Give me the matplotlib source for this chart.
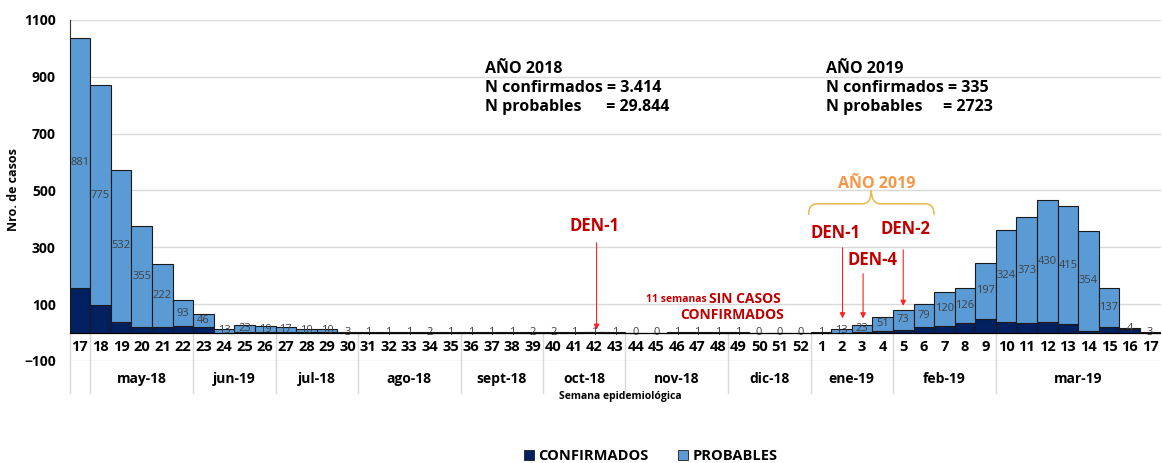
import matplotlib
matplotlib.use("Agg")
import matplotlib.pyplot as plt
import matplotlib.transforms as mtransforms
from matplotlib.patches import Patch, PathPatch
from matplotlib.path import Path
from matplotlib.lines import Line2D

plt.rcParams['font.family'] = ['Open Sans', 'DejaVu Sans']

# datos
semanas = list(range(17, 53)) + list(range(1, 18))
probables = [881, 775, 532, 355, 222, 93, 46, 13, 23, 19, 17, 10, 10, 3,
             1, 1, 1, 2, 1, 1, 1, 1, 2, 2, 1, 1, 1, 0, 0, 1, 1, 1, 1, 0, 0, 0,
             1, 13, 23, 51, 73, 79, 120, 126, 197, 324, 373, 430, 415, 354, 137, 4, 3]
confirmados = [157, 96, 39, 21, 19, 22, 18, 0, 3, 3, 2, 1, 1, 0,
               0, 0, 0, 0, 0, 0, 0, 0, 0, 0, 0, 1, 0, 0, 0, 0, 0, 0, 0, 0, 0, 0,
               0, 0, 3, 5, 8, 20, 23, 32, 48, 38, 32, 36, 29, 5, 20, 12, 0]
meses = ['', 'may-18', 'jun-19', 'jul-18', 'ago-18', 'sept-18', 'oct-18',
         'nov-18', 'dic-18', 'ene-19', 'feb-19', 'mar-19']
semanas_por_mes = [1, 5, 4, 4, 5, 4, 4, 5, 4, 4, 5, 8]

c_conf = '#002060'
c_prob = '#5B9BD5'
rojo = '#C00000'

fig = plt.figure(figsize=(11.62, 4.63), dpi=100)
W, H = 1162, 463
ax = fig.add_axes([69.7 / W, (H - 361) / H, (1160.5 - 69.7) / W, 341 / H])

x = list(range(len(semanas)))
ax.bar(x, confirmados, width=1.0, color=c_conf, edgecolor='#1a1a1a', linewidth=0.8, zorder=3)
ax.bar(x, probables, width=1.0, bottom=confirmados, color=c_prob, edgecolor='#1a1a1a',
       linewidth=0.8, zorder=3)

for i in x:
    ax.text(i, confirmados[i] + probables[i] / 2, str(probables[i]), ha='center', va='center',
            fontsize=8, color='#404040', zorder=4)

ax.set_xlim(-0.5, len(semanas) - 0.5)
ax.set_ylim(-100, 1100)
ax.set_yticks(range(-100, 1101, 200))
ax.grid(axis='y', color='#D9D9D9', linewidth=1, zorder=0)
ax.set_axisbelow(True)
for s in ['top', 'right']:
    ax.spines[s].set_visible(False)
ax.spines['bottom'].set_position(('data', 0))
ax.spines['bottom'].set_zorder(5)
ax.spines['left'].set_bounds(0, 1100)
ax.spines['left'].set_color('#333333')
ax.tick_params(axis='y', length=0, pad=10, labelsize=10)
ax.set_xticks(x)
ax.set_xticklabels([str(s) for s in semanas])
ax.tick_params(axis='x', length=0, pad=5, labelsize=10.5)
for lab in ax.get_xticklabels() + ax.get_yticklabels():
    lab.set_fontweight('bold')

# etiquetas de meses y separadores
trans = mtransforms.blended_transform_factory(ax.transData, fig.transFigure)
y_top = (H - 333) / H
y_bot = (H - 393) / H
inicio = -0.5
for mes, n in zip(meses, semanas_por_mes):
    ax.add_line(Line2D([inicio, inicio], [y_top, y_bot], transform=trans, color='#D9D9D9',
                       linewidth=1, clip_on=False))
    ax.text(inicio + n / 2, (H - 379) / H, mes, transform=trans, ha='center', va='center',
            fontsize=10, fontweight='bold')
    inicio += n

fig.text(620 / W, (H - 396) / H, 'Semana epidemiológica', ha='center', va='center',
         fontsize=7.5, fontweight='bold')
fig.text(14 / W, (H - 190) / H, 'Nro. de casos', rotation=90, ha='center', va='center',
         fontsize=9, fontweight='bold')

# textos resumen
ax.text(19.7, 955, 'AÑO 2018\nN confirmados = 3.414\nN probables      = 29.844',
        ha='left', va='top', fontsize=11.5, fontweight='bold', linespacing=1.25)
ax.text(36.25, 955, 'AÑO 2019\nN confirmados = 335\nN probables     = 2723',
        ha='left', va='top', fontsize=11.5, fontweight='bold', linespacing=1.25)

# AÑO 2019 con llave
ax.text(38.7, 523, 'AÑO 2019', ha='center', va='center', fontsize=11.5, fontweight='bold',
        color='#F79646')
verts = [(35.4, 414), (35.4, 453), (35.8, 453), (38.0, 453),
         (38.45, 453), (38.45, 500), (38.45, 453), (38.9, 453),
         (41.1, 453), (41.5, 453), (41.5, 414)]
codes = [Path.MOVETO, Path.CURVE3, Path.CURVE3, Path.LINETO,
         Path.CURVE3, Path.CURVE3, Path.CURVE3, Path.CURVE3,
         Path.LINETO, Path.CURVE3, Path.CURVE3]
ax.add_patch(PathPatch(Path(verts, codes), facecolor='none', edgecolor='#E6B84A', lw=1.1,
                       clip_on=False))

# serotipos
flecha = dict(arrowstyle='-|>', color='#FF2020', lw=0.8, mutation_scale=8)
ax.text(24.98, 375, 'DEN-1', ha='center', va='center', fontsize=12, fontweight='bold', color=rojo)
ax.annotate('', xy=(25.1, 0), xytext=(25.1, 326), arrowprops=flecha, zorder=6)
ax.text(36.7, 351, 'DEN-1', ha='center', va='center', fontsize=12, fontweight='bold', color=rojo)
ax.annotate('', xy=(37.05, 40), xytext=(37.05, 308), arrowprops=flecha, zorder=6)
ax.text(38.5, 255, 'DEN-4', ha='center', va='center', fontsize=12, fontweight='bold', color=rojo)
ax.annotate('', xy=(38.05, 40), xytext=(38.05, 217), arrowprops=flecha, zorder=6)
ax.text(40.1, 365, 'DEN-2', ha='center', va='center', fontsize=12, fontweight='bold', color=rojo)
ax.annotate('', xy=(40.0, 84), xytext=(40.0, 301), arrowprops=flecha, zorder=6)

ax.text(34.05, 118, 'SIN CASOS', ha='right', va='center', fontsize=10, fontweight='bold', color=rojo)
ax.text(30.45, 116, '11 semanas', ha='right', va='center', fontsize=7.5, fontweight='bold', color=rojo)
ax.text(34.2, 62, 'CONFIRMADOS', ha='right', va='center', fontsize=10, fontweight='bold', color=rojo)

handles = [Patch(facecolor=c_conf, edgecolor='#1a1a1a', linewidth=0.6),
           Patch(facecolor=c_prob, edgecolor='#1a1a1a', linewidth=0.6)]
fig.legend(handles, ['CONFIRMADOS', 'PROBABLES'], loc='center', bbox_to_anchor=(0.56, 0.015),
           ncol=2, frameon=False, prop={'weight': 'bold', 'size': 10.5},
           handlelength=0.7, handleheight=0.7, handletextpad=0.3, columnspacing=2.0)

fig.savefig('out.png', dpi=100)
